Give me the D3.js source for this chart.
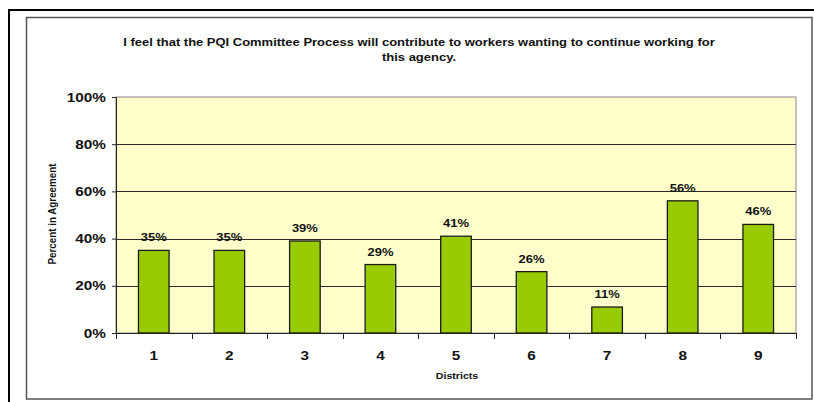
<!DOCTYPE html>
<html>
<head>
<meta charset="utf-8">
<script src="https://cdn.jsdelivr.net/npm/d3@7"></script>
<style>
  html, body { margin: 0; padding: 0; background: #fff; }
  svg { display: block; font-family: "Liberation Sans", Arial, sans-serif; }
</style>
</head>
<body>
<svg id="chart" width="814" height="402"></svg>
<script>
// Survey results per district
const districts = ["1", "2", "3", "4", "5", "6", "7", "8", "9"];
const agreement = [35, 35, 39, 29, 41, 26, 11, 56, 46];
const yTicks = [0, 20, 40, 60, 80, 100];
const titleLines = [
  "I feel that the PQI Committee Process will contribute to workers wanting to continue working for",
  "this agency."
];

// Text is drawn slightly widened, like the source chart's font rendering
const SX = 1.18;

const svg = d3.select("#chart");

function label(parent, x, y, txt, opts) {
  const g = parent.append("g")
    .attr("transform", `translate(${x},${y}) scale(${opts.sx || SX},1)`);
  g.append("text")
    .attr("text-anchor", opts.anchor || "middle")
    .attr("font-size", opts.size)
    .attr("font-weight", "bold")
    .attr("fill", "#111")
    .text(txt);
  return g;
}

// Outer frame (top and left edges)
svg.append("path")
  .attr("d", "M9,402 V10 H814")
  .attr("fill", "none").attr("stroke", "#000").attr("stroke-width", 2);

// Chart area box
svg.append("rect")
  .attr("x", 26.5).attr("y", 17.5).attr("width", 785.5).attr("height", 381.5)
  .attr("fill", "#fff").attr("stroke", "#555").attr("stroke-width", 1.5);

const plot = { left: 116, right: 796, top: 97, bottom: 333 };

const x = d3.scaleBand().domain(districts).range([plot.left, plot.right]).paddingInner(0).paddingOuter(0);
const y = d3.scaleLinear().domain([0, 100]).range([plot.bottom, plot.top]);

// Plot background
svg.append("rect")
  .attr("x", plot.left).attr("y", plot.top)
  .attr("width", plot.right - plot.left).attr("height", plot.bottom - plot.top)
  .attr("fill", "#FFFFCC").attr("stroke", "#888").attr("stroke-width", 1);

// Gridlines
svg.append("g").selectAll("line")
  .data(yTicks.filter(d => d > 0 && d < 100))
  .join("line")
  .attr("x1", plot.left).attr("x2", plot.right)
  .attr("y1", d => Math.round(y(d)) + 0.5).attr("y2", d => Math.round(y(d)) + 0.5)
  .attr("stroke", "#2a2a2a").attr("stroke-width", 1);

// Bars
const barW = x.bandwidth() * 0.405;
svg.append("g").selectAll("rect")
  .data(districts)
  .join("rect")
  .attr("x", (d) => x(d) + (x.bandwidth() - barW) / 2)
  .attr("y", (d, i) => y(agreement[i]))
  .attr("width", barW)
  .attr("height", (d, i) => y(0) - y(agreement[i]))
  .attr("fill", "#99CC00")
  .attr("stroke", "#1a1a1a").attr("stroke-width", 1.3);

// Value labels
const gl = svg.append("g");
districts.forEach((d, i) => {
  label(gl, x(d) + x.bandwidth() / 2, y(agreement[i]) - 9, agreement[i] + "%", { size: 11 });
});

// Y axis
const yAxis = d3.axisLeft(y).tickValues(yTicks).tickSize(4).tickFormat("");
const gy = svg.append("g").attr("transform", `translate(${plot.left},0)`).call(yAxis);
gy.select(".domain").attr("stroke", "#222");
gy.selectAll(".tick line").attr("stroke", "#222");
yTicks.forEach(t => {
  label(svg, 106, y(t) + 4.6, t + "%", { size: 13, anchor: "end" });
});

// X axis with ticks between categories
const gx = svg.append("g").attr("transform", `translate(0,${plot.bottom})`);
gx.append("line").attr("x1", plot.left).attr("x2", plot.right)
  .attr("y1", 0.5).attr("y2", 0.5).attr("stroke", "#222");
const boundaries = districts.map(d => x(d)).concat([plot.right]);
gx.selectAll("line.tk").data(boundaries).join("line").attr("class", "tk")
  .attr("x1", d => Math.round(d) + 0.5).attr("x2", d => Math.round(d) + 0.5)
  .attr("y1", 0).attr("y2", 6).attr("stroke", "#222");
districts.forEach(d => {
  label(svg, x(d) + x.bandwidth() / 2, plot.bottom + 26.5, d, { size: 13 });
});

// Axis titles
svg.append("text")
  .attr("transform", "translate(55.5,214) rotate(-90)")
  .attr("text-anchor", "middle")
  .attr("font-size", 10.5).attr("font-weight", "bold").attr("fill", "#111")
  .attr("textLength", 101).attr("lengthAdjust", "spacingAndGlyphs")
  .text("Percent in Agreement");

label(svg, 457, 379, "Districts", { size: 9 });

// Title
titleLines.forEach((t, i) => {
  label(svg, 419, 46 + i * 15, t, { size: 11 });
});
</script>
</body>
</html>
